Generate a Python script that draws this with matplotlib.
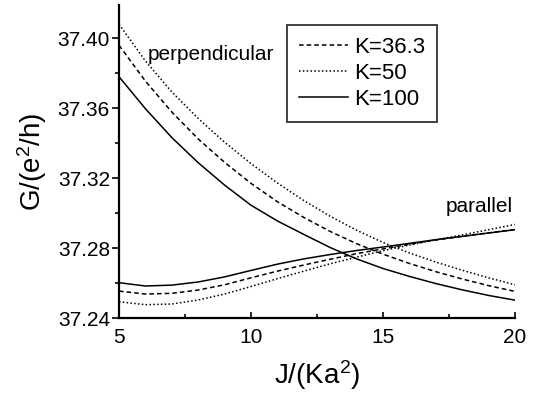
import matplotlib
matplotlib.use("Agg")
import matplotlib.pyplot as plt
from matplotlib.ticker import MultipleLocator, FormatStrFormatter

plt.rcParams['font.family'] = ['Liberation Sans', 'DejaVu Sans']
plt.rcParams['mathtext.fontset'] = 'custom'
plt.rcParams['mathtext.rm'] = 'Liberation Sans'
plt.rcParams['mathtext.it'] = 'Liberation Sans:italic'

J = [5, 6, 7, 8, 9, 10, 11, 12, 13, 14, 15, 16, 17, 18, 19, 20]

# perpendicular
perp_K36 = [37.396, 37.3755, 37.3578, 37.3424, 37.3290, 37.3170, 37.3065, 37.2975,
            37.2895, 37.2825, 37.2765, 37.2712, 37.2665, 37.2623, 37.2585, 37.2552]
perp_K50 = [37.408, 37.3870, 37.3693, 37.3541, 37.3405, 37.3283, 37.3172, 37.3072,
            37.2982, 37.2902, 37.2832, 37.2772, 37.2720, 37.2673, 37.2630, 37.2590]
perp_K100 = [37.378, 37.3597, 37.3432, 37.3288, 37.3160, 37.3045, 37.2955, 37.2878,
             37.2803, 37.2738, 37.2683, 37.2638, 37.2597, 37.2561, 37.2529, 37.2502]

# parallel
par_K36 = [37.2554, 37.2537, 37.2541, 37.2560, 37.2590, 37.2630, 37.2668, 37.2703,
           37.2736, 37.2768, 37.2795, 37.2822, 37.2846, 37.2867, 37.2887, 37.2906]
par_K50 = [37.2493, 37.2476, 37.2480, 37.2503, 37.2537, 37.2580, 37.2625, 37.2668,
           37.2710, 37.2748, 37.2785, 37.2817, 37.2847, 37.2875, 37.2905, 37.2935]
par_K100 = [37.2602, 37.2583, 37.2588, 37.2606, 37.2635, 37.2672, 37.2708, 37.2738,
            37.2763, 37.2786, 37.2806, 37.2827, 37.2848, 37.2867, 37.2886, 37.2905]

labels = ['K=36.3', 'K=50', 'K=100']

fig = plt.figure(figsize=(5.37, 4.01), dpi=100)
ax = fig.add_axes([119/537, 1-318/401, (515-119)/537, (318-5)/401])

dash = (0, (3, 2))
dot = (0, (1, 1.5))
lw = 1.1
l1, = ax.plot(J, perp_K36, color='black', lw=lw, linestyle=dash)
l2, = ax.plot(J, perp_K50, color='black', lw=lw, linestyle=dot)
l3, = ax.plot(J, perp_K100, color='black', lw=lw, linestyle='-')
ax.plot(J, par_K36, color='black', lw=lw, linestyle=dash)
ax.plot(J, par_K50, color='black', lw=lw, linestyle=dot)
ax.plot(J, par_K100, color='black', lw=lw, linestyle='-')

ax.set_xlim(5, 20)
ax.set_ylim(37.24, 37.419)

ax.spines['top'].set_visible(False)
ax.spines['right'].set_visible(False)
for s in ['left', 'bottom']:
    ax.spines[s].set_linewidth(1.6)

ax.xaxis.set_major_locator(MultipleLocator(5))
ax.xaxis.set_minor_locator(MultipleLocator(2.5))
ax.yaxis.set_major_locator(MultipleLocator(0.04))
ax.yaxis.set_minor_locator(MultipleLocator(0.02))
ax.yaxis.set_major_formatter(FormatStrFormatter('%.2f'))

ax.tick_params(axis='x', which='major', direction='in', length=4, width=1.2, pad=7, labelsize=15)
ax.tick_params(axis='x', which='minor', direction='in', length=3, width=1.2)
ax.tick_params(axis='y', which='major', direction='out', length=5, width=1.2, pad=1.5, labelsize=15)
ax.tick_params(axis='y', which='minor', direction='out', length=3, width=1.2)

ax.set_xlabel(r'J/(Ka$^\mathregular{2}$)', fontsize=20, labelpad=8)
ax.set_ylabel(r'G/(e$^\mathregular{2}$/h)', fontsize=20, labelpad=6)

ax.text(6.1, 37.3874, 'perpendicular', fontsize=15, ha='left', va='baseline')
ax.text(19.92, 37.3006, 'parallel', fontsize=15, ha='right', va='baseline')

leg = ax.legend([l1, l2, l3], labels, loc='upper left',
                bbox_to_anchor=(287/537, 1-25/401), bbox_transform=fig.transFigure,
                fontsize=16, frameon=True, fancybox=False, shadow=False,
                handlelength=2.2, handletextpad=0.25, labelspacing=0.22,
                borderpad=0.55, borderaxespad=0)
leg.get_frame().set_edgecolor('black')
leg.get_frame().set_linewidth(1.3)

fig.savefig('out.png', dpi=100)
